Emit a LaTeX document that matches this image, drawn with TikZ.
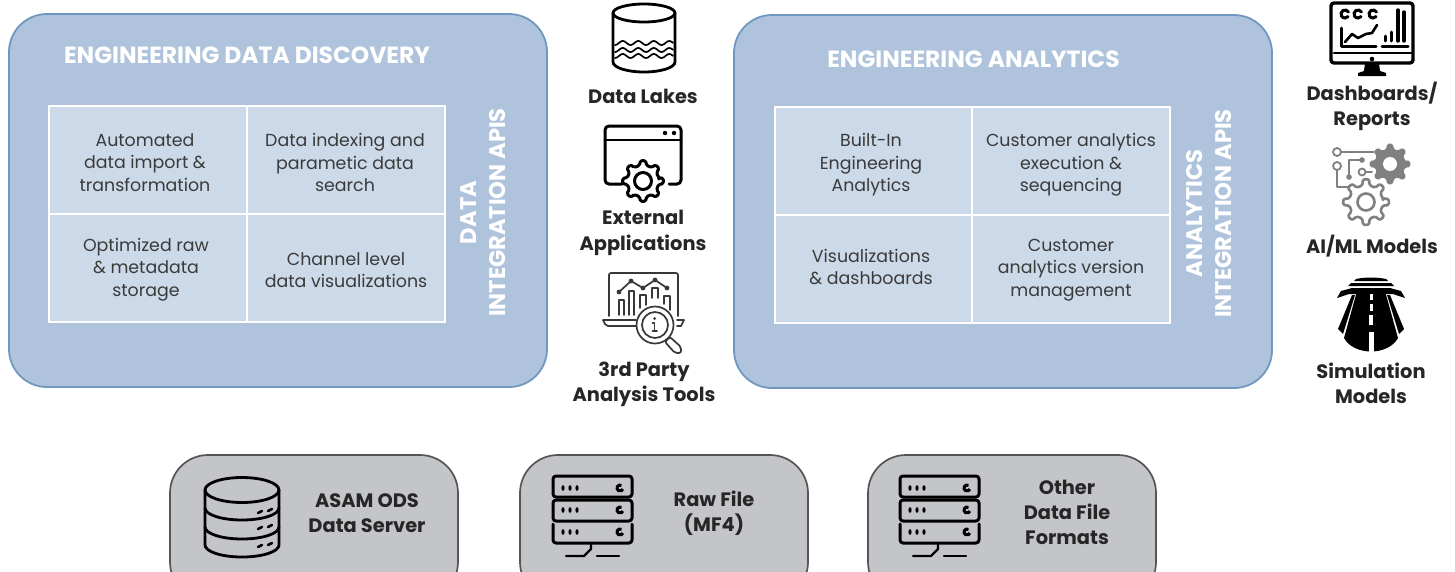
\documentclass[tikz,border=0pt]{standalone}
\usepackage{fontspec}
\setmainfont{Poppins}
\definecolor{panelfill}{HTML}{AFC4DC}
\definecolor{panelline}{HTML}{6F97BF}
\definecolor{cellfill}{HTML}{CCD9E8}
\definecolor{greybox}{HTML}{C4C5C9}
\definecolor{greyline}{HTML}{555555}
\definecolor{bodytext}{HTML}{3A3A3A}
\definecolor{labeltext}{HTML}{262626}
\definecolor{icongrey}{HTML}{808080}
\tikzset{
  panel/.style={draw=panelline,line width=1.8pt,fill=panelfill,rounded corners=38pt},
  grey panel/.style={draw=greyline,line width=1.7pt,fill=greybox,rounded corners=38pt},
  cell/.style={draw=white,line width=1.8pt,fill=cellfill,minimum width=198pt,minimum height=108pt,inner sep=0pt},
  celltext/.style={align=center,text=bodytext,font=\fontsize{17.4}{22.5}\selectfont,inner sep=0pt},
  title/.style={text=white,font=\fontsize{23.4}{28}\selectfont\bfseries,inner sep=0pt},
  apilabel/.style={text=white,rotate=90,align=center,font=\fontsize{22.6}{29}\selectfont\bfseries,inner sep=0pt},
  lbl/.style={align=center,text=labeltext,font=\fontsize{19.4}{25.3}\selectfont\bfseries,inner sep=0pt},
  ic/.style={draw=black,line width=2.8pt,line cap=round,line join=round},
  icthin/.style={draw=black,line width=1.7pt,line cap=round,line join=round},
  icgrey/.style={draw=icongrey,line width=2.6pt,line cap=round,line join=round},
  lthin/.style={draw=black!78,line width=1.7pt,line cap=round,line join=round},
}
\newcommand{\gearshape}[6]{% x,y,teeth,rin,rout,style
  \path[#6,shift={(#1,#2)},rounded corners=1.5pt] (-90/#3:#4)
    \foreach \k in {0,...,\numexpr#3-1\relax}{
      -- ({\k*360/#3-100/#3}:#4) -- ({\k*360/#3-60/#3}:#5) -- ({\k*360/#3+60/#3}:#5) -- ({\k*360/#3+100/#3}:#4)
    } -- cycle;
}
\newcommand{\rackicon}[1]{%
  \begin{scope}[shift={(#1,0)}]
    \draw[ic,line width=3pt,rounded corners=3pt] (553,497) -- (553,476) -- (632,476) -- (632,497) -- cycle;
    \draw[ic,line width=3pt,rounded corners=3pt] (553,521) -- (553,500) -- (632,500) -- (632,521) -- cycle;
    \draw[ic,line width=3pt,rounded corners=3pt] (553,524) -- (553,543) -- (632,543) -- (632,524);
    \foreach \y in {488,510,532}{
      \foreach \x in {563,570,577}{\fill[black] (\x,\y) ellipse (1.6pt and 2.8pt);}
      \draw[black,line width=3pt] (620,\y) ++(60:3pt) arc (60:340:3pt);
    }
    \draw[ic,line width=2.2pt] (591,543) -- (591,549) -- (584,556) -- (566,556);
    \draw[ic,line width=2.2pt] (597,556) -- (619,556);
  \end{scope}}
\begin{document}
\begin{tikzpicture}[x=1pt,y=-1pt]
\useasboundingbox (0,0) rectangle (1455,571);
\clip (0,0) rectangle (1455,571);
\fill[white] (0,0) rectangle (1455,571);

% ---- main panels
\path[panel] (9,14) rectangle (547,387);
\path[panel] (734,15) rectangle (1272,388);
\node[title] (t1) at (247,55) {ENGINEERING DATA DISCOVERY};
\node[title] (t2) at (973.5,59) {ENGINEERING ANALYTICS};

\node[cell] (a1) at (148,160) {};
\node[cell] (a2) at (346,160) {};
\node[cell] (a3) at (148,268) {};
\node[cell] (a4) at (346,268) {};
\node[celltext] at (145,162.5) {Automated\\data import \&\\transformation};
\node[celltext] at (345,162.5) {Data indexing and\\parametic data\\search};
\node[celltext] at (146,269.5) {Optimized raw\\\& metadata\\storage};
\node[celltext] at (346,270) {Channel level\\data visualizations};
\node[apilabel] (api1) at (483,212.5) {DATA\\INTEGRATION APIS};

\node[cell,minimum width=197pt] (b1) at (873.5,161) {};
\node[cell,minimum width=198pt] (b2) at (1071,161) {};
\node[cell,minimum width=197pt] (b3) at (873.5,269) {};
\node[cell,minimum width=198pt] (b4) at (1071,269) {};
\node[celltext] at (871,165) {Built-In\\Engineering\\Analytics};
\node[celltext] at (1071,165) {Customer analytics\\execution \&\\sequencing};
\node[celltext] at (871,267) {Visualizations\\\& dashboards};
\node[celltext] at (1071,270) {Customer\\analytics version\\management};
\node[apilabel] (api2) at (1209,213.5) {ANALYTICS\\INTEGRATION APIS};

% ---- bottom boxes
\path[grey panel] (170,455) rectangle (458,600);
\path[grey panel] (520,455) rectangle (808,600);
\path[grey panel] (868,455) rectangle (1156,600);
\node[lbl] (s1) at (367,513.5) {ASAM ODS\\Data Server};
\node[lbl] (s2) at (714,513.5) {Raw File\\(MF4)};
\node[lbl] (s3) at (1067,512.5) {Other\\Data File\\Formats};

% database icon
\draw[ic] (242,490) ellipse (37pt and 12.5pt);
\draw[ic] (205,490) -- (205,545) arc[start angle=180,end angle=0,x radius=37pt,y radius=-12pt] -- (279,490);
\draw[ic] (205,508) arc[start angle=180,end angle=0,x radius=37pt,y radius=-12pt];
\draw[ic] (205,527) arc[start angle=180,end angle=0,x radius=37pt,y radius=-12pt];
\foreach \y in {511,527,545}{
  \draw[black,line width=2.6pt,line cap=round] (258,\y+2) -- (262,\y);
  \draw[black,line width=2.6pt,line cap=round] (268,\y) -- (272,\y-2);
}
% rack icons
\rackicon{0}
\rackicon{347}

% ---- centre column
% data lakes
\draw[ic] (644,13) ellipse (31pt and 9pt);
\draw[ic] (613,13) -- (613,62) arc[start angle=180,end angle=0,x radius=31pt,y radius=-10pt] -- (675,13);
\foreach \y in {43,50,56}{
  \draw[icthin] plot[domain=615:673,samples=50,variable=\t] (\t,{\y+2*cos(23.2*(\t-615))});
}
\node[lbl] (l1) at (643,96) {Data Lakes};

% external applications
\draw[ic,line width=3pt,rounded corners=4pt] (622,184) -- (605,184) -- (605,126) -- (681,126) -- (681,184) -- (669,184);
\draw[ic] (605,140) -- (681,140);
\fill[black] (665,133) circle (2.2pt) (674,133) circle (2.2pt);
\gearshape{643}{181}{8}{16}{20.5}{ic,line width=3pt,fill=white}
\draw[ic,line width=3pt] (643,181) circle (8.5pt);
\node[lbl] (l2) at (643,233) {External\\Applications};

% 3rd party
\draw[lthin,rounded corners=2pt] (609,316) -- (609,273) -- (678,273) -- (678,316);
\draw[lthin,rounded corners=2pt] (603,320) -- (636,320) (603,320) -- (606,326) -- (636,326);
\draw[lthin] (677,320) -- (684,320) -- (681,326) -- (677,326);
\draw[lthin] (619,315) -- (619,300) -- (624,300) -- (624,315);
\draw[lthin] (629,315) -- (629,291) -- (634,291) -- (634,315);
\draw[lthin] (640,308) -- (640,295) -- (646,295) -- (646,305);
\draw[lthin] (652,298) -- (652,288) -- (658,288) -- (658,298);
\draw[lthin] (664,304) -- (664,296) -- (670,296) -- (670,310);
\draw[lthin] (619,292) -- (631,281) -- (643,288) -- (655,280) -- (667,288);
\foreach \x/\y in {619/292,631/281,643/288,655/280,667/288}{\fill[black!78] (\x,\y) circle (2.4pt);}
\draw[lthin] (655,325) circle (18.5pt);
\draw[lthin] (655,325) circle (13pt);
\fill[black!78] (654.5,318.5) circle (1.5pt);
\draw[lthin] (652.5,323) -- (654.5,323) -- (654.5,331) (652.5,331) -- (657,331);
\draw[lthin,rounded corners=2pt] (665,342) -- (670,337) -- (681,347) -- (681,353) -- (675,353) -- cycle;
\node[lbl] (l3) at (644,384) {3rd Party\\Analysis Tools};

% ---- right column
% dashboard
\draw[ic,line width=3.4pt,rounded corners=3pt] (1331,3) rectangle (1413,63);
\draw[ic] (1334,53) -- (1411,53);
\fill[black] (1372,59) circle (2.3pt);
\fill[black] (1365,63) -- (1379,63) -- (1380,71) -- (1386,73) -- (1386,76) -- (1358,76) -- (1358,73) -- (1364,71) -- cycle;
\foreach \x in {1345,1358,1373}{\draw[black,line width=3pt,line cap=round] (\x,14) ++(30:4pt) arc (30:320:4pt);}
\draw[ic,line width=3pt] (1341,28) -- (1341,46) -- (1376,46);
\draw[ic,line width=2.6pt] (1345,42) -- (1352,34) -- (1358,38) -- (1366,34) -- (1372,33) -- (1377,25);
\draw[ic,line width=3pt] (1382,46) -- (1408,46);
\draw[ic,line width=3pt] (1385,36) -- (1385,41);
\draw[ic,line width=3pt] (1391,32) -- (1391,41);
\draw[ic,line width=3.4pt] (1398,10) -- (1398,41);
\draw[ic,line width=3.4pt] (1404,12) -- (1404,41);
\node[lbl] (l4) at (1372,106.5) {Dashboards/\\Reports};

% AI/ML
\gearshape{1390}{164}{8}{15}{20}{fill=icongrey,draw=icongrey,line width=1pt}
\fill[white] (1390,164) circle (7pt);
\gearshape{1366}{202}{8}{17}{23}{icgrey,fill=white}
\draw[icgrey] (1366,202) circle (8.5pt);
\draw[icgrey,line width=1.8pt] (1337,152) circle (4pt);
\draw[icgrey,line width=1.8pt] (1341,152) -- (1374,152);
\draw[icgrey,line width=1.8pt] (1337,166) circle (4pt);
\draw[icgrey,line width=1.8pt] (1337,170) -- (1337,187) -- (1348,187);
\draw[icgrey,line width=1.8pt] (1362,172) circle (3.5pt);
\draw[icgrey,line width=1.8pt] (1366,172) -- (1372,172);
\draw[icgrey,line width=1.8pt] (1349,177) -- (1349,160) -- (1362,160);
\fill[icongrey] (1349,177) circle (2.8pt) (1362,160) circle (2.8pt);
\node[lbl] (l5) at (1372,246) {AI/ML Models};

% simulation
\fill[black] (1356,279) .. controls (1365,277) and (1377,277) .. (1386,279) -- (1388,281) -- (1354,281) -- cycle;
\fill[black] (1351,283) -- (1391,283) -- (1394,286) -- (1348,286) -- cycle;
\fill[black] (1352,288) -- (1390,288) -- (1401,291) -- (1405,298) -- (1393,294) -- (1349,294) -- (1337,298) -- (1341,291) -- cycle;
\fill[black] (1357,291) -- (1385,291) -- (1398,338) .. controls (1388,356) and (1354,356) .. (1344,338) -- cycle;
\fill[black] (1352,295) -- (1355,295) -- (1343,334) -- (1338,329) -- cycle;
\fill[black] (1390,295) -- (1387,295) -- (1399,334) -- (1404,329) -- cycle;
\fill[white] (1370,294) rectangle (1372.5,300);
\fill[white] (1369.8,304) rectangle (1372.7,311);
\fill[white] (1369.3,315) rectangle (1373.2,325);
\fill[white] (1368.5,332) rectangle (1374,354);
\node[lbl] (l6) at (1371,383.5) {Simulation\\Models};
\end{tikzpicture}
\end{document}
